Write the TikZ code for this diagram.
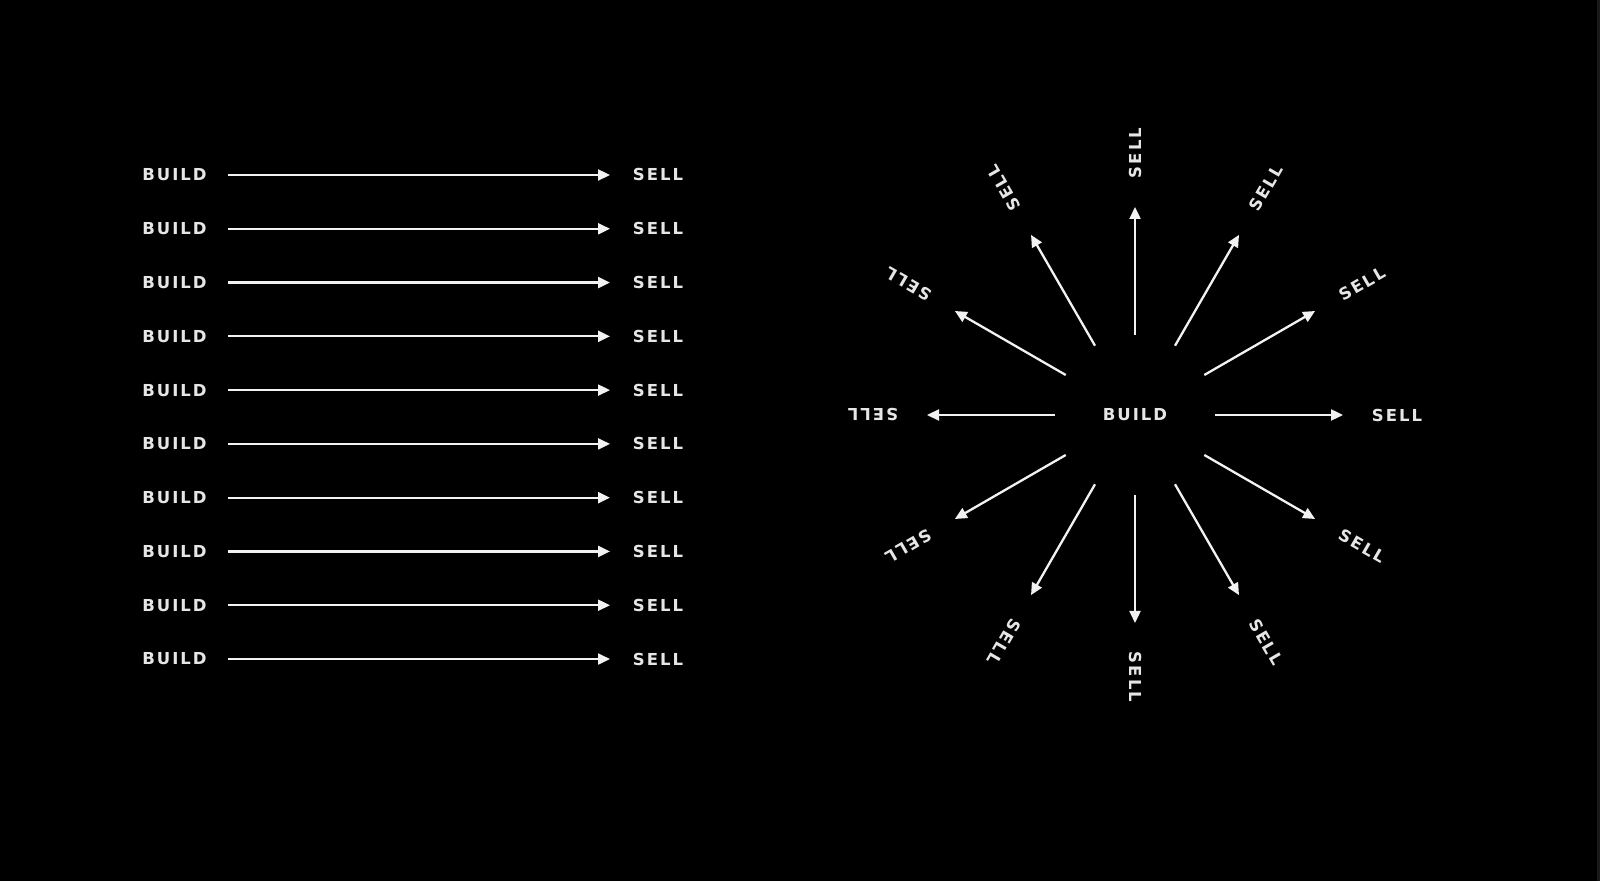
\documentclass[tikz,border=0pt]{standalone}
\usepackage{fontspec}
\newfontfamily\labelfont[LetterSpace=12]{DejaVu Sans Bold}
\usetikzlibrary{arrows.meta,calc}
\definecolor{txt}{HTML}{E6E6E6}
\definecolor{arr}{HTML}{F2F2F2}
\definecolor{edge}{HTML}{1A1A1A}
\tikzset{
  lbl/.style={text=txt, inner sep=0pt, font=\labelfont\fontsize{16.5}{16.5}\selectfont},
  con/.style={draw=arr, line width=2.3pt, -{Triangle[length=12pt,width=11pt]}}
}
\begin{document}
\begin{tikzpicture}[x=1pt,y=1pt]
\fill[black] (0,0) rectangle (1600,881);
\fill[edge] (1597,0) rectangle (1600,881);
\useasboundingbox (0,0) rectangle (1600,881);
% left column
\foreach \i in {0,...,9}{
  \pgfmathsetmacro\yy{881-(175+53.78*\i)}
  \node[lbl] (b\i) at (174.5,\yy) {BUILD};
  \node[lbl] (s\i) at (658,\yy) {SELL};
  \draw[con, shorten <=53.5pt, shorten >=48pt] (b\i.center) -- (s\i.center);
}
% radial
\node[lbl] (c) at (1135,466) {BUILD};
\foreach \a in {0,30,...,330}{
  \node[lbl, rotate=\a] (r\a) at ($(c.center)+(\a:262pt)$) {SELL};
  \draw[con, shorten <=80pt, shorten >=54pt] (c.center) -- (r\a.center);
}
\end{tikzpicture}
\end{document}
